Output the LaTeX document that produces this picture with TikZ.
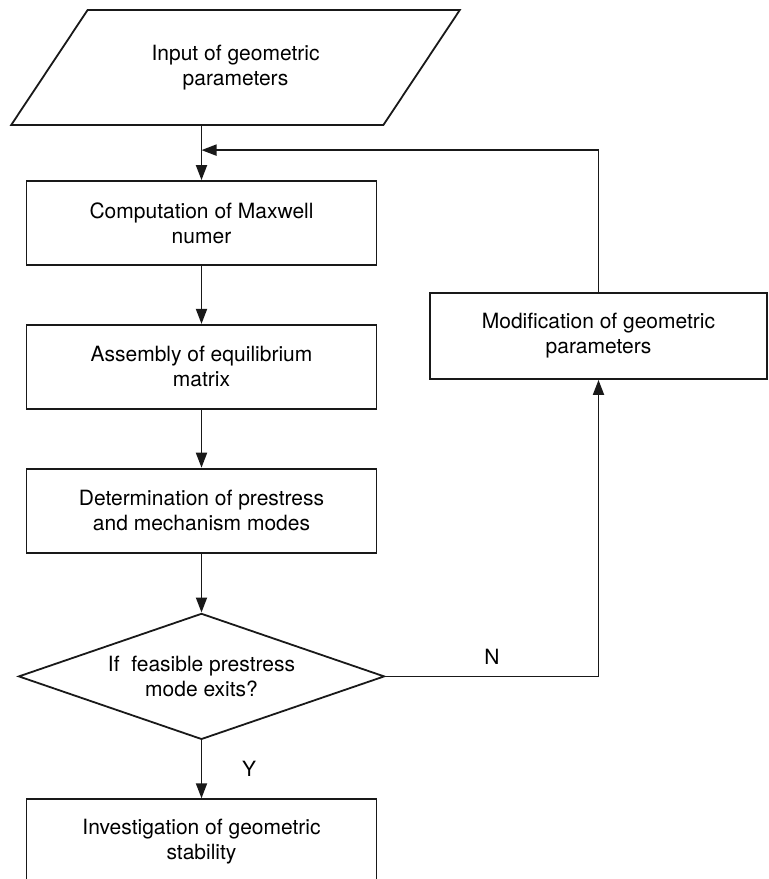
\documentclass[tikz,border=0pt]{standalone}
\usepackage{fontspec}
\setmainfont{TeX Gyre Heros}
\usepackage{tikz}
\usetikzlibrary{arrows.meta, positioning, shapes.geometric, calc}
\tikzset{
    box/.style={draw, rectangle, minimum width=175pt, minimum height=42pt, align=center},
    io/.style={draw, trapezium, trapezium left angle=46, trapezium right angle=134,
      trapezium stretches=true, minimum width=224.5pt, minimum height=57.5pt,
      inner sep=0pt, align=center},
    decision/.style={draw, diamond, aspect=2.9, minimum width=183pt, minimum height=63pt,
      inner sep=0pt, align=center},
    every node/.append style={font=\fontsize{10.5}{12.5}\selectfont},
}

\begin{document}
\begin{tikzpicture}[x=0.5pt, y=-0.5pt, line width=0.9pt, draw=black!90,
    >={Triangle[length=7.5pt, width=5.5pt]}]
    \useasboundingbox (0,0) rectangle (768,879);

    \node[io] (in) at (235.5,67.5) {Input of geometric\\parameters};
    \node[box] (b1) at (201.5,223) {Computation of Maxwell\\numer};
    \node[box, below=29pt of b1] (b2) {Assembly of equilibrium\\matrix};
    \node[box, below=29pt of b2] (b3) {Determination of prestress\\and mechanism modes};
    \node[decision, below=29.5pt of b3] (dec) {If\ \ feasible prestress\\mode exits?};
    \node[box, below=29pt of dec] (b4) {Investigation of geometric\\stability};
    \node[box, minimum width=168.5pt, minimum height=43pt] (mod) at (598.5,336)
      {Modification of geometric\\parameters};
    \coordinate[above=15pt of b1.north] (join);

    \draw (b1.north |- in.south) edge[->] (b1.north);
    \draw (b1) edge[->] (b2);
    \draw (b2) edge[->] (b3);
    \draw (b3) edge[->] (dec);
    \draw (dec) edge[->] node[right=16.5pt]{Y} (b4);
    \draw[->] (dec.east) -| node[pos=0.25, above=2pt]{N} (mod.south);
    \draw[->] (mod.north) |- (join);
  \end{tikzpicture}
\end{document}
